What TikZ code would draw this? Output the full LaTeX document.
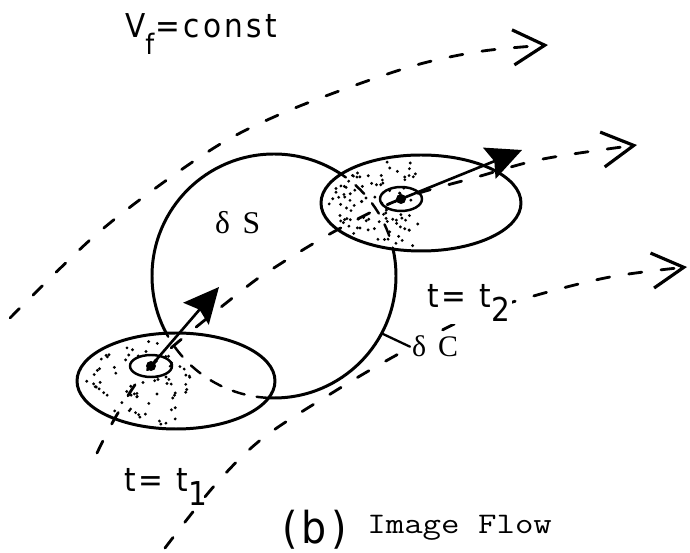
\documentclass[tikz,border=0pt]{standalone}
\usepackage{fontspec}
\usepackage{tikz}
\usetikzlibrary{arrows.meta,calc}
\newfontfamily\plotfont[FakeStretch=0.9,LetterSpace=10]{DejaVu Sans}
\newfontfamily\greekfont{Liberation Serif}
\newcommand{\Lower}[1]{\raisebox{-0.42em}{#1}}
\tikzset{
  outline/.style={line width=1.7pt},
  hidden arc/.style={line width=1.4pt,dash pattern=on 7pt off 7pt},
  flow line/.style={line width=1.6pt,dash pattern=on 7.5pt off 11pt,
    -{Straight Barb[length=18pt,width=20pt,line width=1.8pt]}},
  motion/.style={line width=1.5pt,-{Stealth[length=20pt,width=19pt,inset=3pt]}},
  plot label/.style={font=\plotfont\fontsize{18.7}{22}\selectfont,inner sep=1pt,anchor=base west},
  greek label/.style={font=\greekfont\fontsize{18}{22}\selectfont,inner sep=1pt,anchor=base west}
}
\newcommand{\StippleDot}[1]{\fill (#1) circle[radius=1.6];}

\begin{document}
\begin{tikzpicture}[x=0.02cm,y=-0.02cm,line cap=round,line join=round]
  \useasboundingbox (0,0) rectangle (690,553);
  \coordinate (bigc) at (274,276);
  \coordinate (e1)   at (176,381);
  \coordinate (e2)   at (421,203);
  \coordinate (p1)   at (151,366);
  \coordinate (p2)   at (401,199);
  \coordinate (tip1) at (219,287);
  \coordinate (tip2) at (522,150);

  % big circle, dashed where it runs under the two ellipses
  \draw[outline] (bigc) circle[radius=122];
  \fill[white] (e1) ellipse[x radius=99,y radius=48];
  \fill[white] (e2) ellipse[x radius=100,y radius=48];
  \begin{scope}
    \clip (e1) ellipse[x radius=99,y radius=48];
    \draw[hidden arc] (bigc) circle[radius=122];
  \end{scope}
  \begin{scope}
    \clip (e2) ellipse[x radius=100,y radius=48];
    \draw[hidden arc] (bigc) circle[radius=122];
  \end{scope}

  % stippling
  \pgfmathsetseed{4711}
  \foreach \k in {1,...,120} {
    \pgfmathsetmacro\px{80+110*rnd^1.7}
    \pgfmathsetmacro\py{334+94*rnd}
    \pgfmathtruncatemacro\ok{and(((\px-176)/99)^2+((\py-381)/48)^2<0.88,((\px-274)/100)^2+((\py-276)/100)^2>1.55)}
    \ifnum\ok=1 \StippleDot{\px,\py}\fi
  }
  \foreach \k in {1,...,150} {
    \pgfmathsetmacro\px{324+95*rnd^1.6}
    \pgfmathsetmacro\py{156+94*rnd}
    \pgfmathtruncatemacro\ok{((\px-421)/100)^2+((\py-203)/48)^2<0.86}
    \ifnum\ok=1 \StippleDot{\px,\py}\fi
  }

  \draw[outline] (e1) ellipse[x radius=99,y radius=48];
  \draw[outline] (e2) ellipse[x radius=100,y radius=48];

  % flow lines
  \draw[flow line] plot[smooth,tension=0.55] coordinates {(10,318) (90,240) (153,190) (222,143)
        (283,113) (353,86) (420,64) (483,51) (548,45)};
  \draw[flow line] plot[smooth,tension=0.55] coordinates {(97,453) (118,413) (151,366) (240,292)
        (277,266) (337,230) (401,199) (477,177) (543,159) (637,145)};
  \draw[flow line] plot[smooth,tension=0.55] coordinates {(165,548) (215,485) (263,438) (332,393)
        (393,357) (467,318) (530,297) (610,277) (687,267)};

  % image points and their motion
  \draw[line width=1.4pt] (p1) ellipse[x radius=21,y radius=11];
  \draw[line width=1.4pt] (p2) ellipse[x radius=21,y radius=12];
  \fill (p1) circle[radius=5];
  \fill (p2) circle[radius=5];
  \draw[motion] (p1) -- (tip1);
  \draw[motion] (p2) -- (tip2);

  \node[plot label] (vf) at (123,38) {V\raisebox{-0.5em}{\fontsize{16}{16}\selectfont f}\kern0.05em=const};
  \node[greek label] (ds) at (213,234) {δ\hspace{0.4em}S};
  \node[greek label,fill=white,font=\greekfont\fontsize{17}{20}\selectfont] (dc) at (410,357) {δ\hspace{0.4em}C};
  \coordinate (dcfoot) at (383,334);
  \draw[line width=1.3pt] (dcfoot) -- (dc.west);
  \node[plot label,fill=white] (t2) at (425,308) {t= t\Lower{2}};
  \node[plot label] (t1) at (122,492) {t= t\Lower{1}};
  \node[plot label,font=\plotfont\fontsize{25}{28}\selectfont] (fig) at (280,544) {(b)};
  \node[anchor=base west,inner sep=0pt,font={\ttfamily\fontsize{17}{20}\selectfont}] (cap) at (367,534) {\scalebox{1.2}[1]{Image Flow}};
\end{tikzpicture}
\end{document}
